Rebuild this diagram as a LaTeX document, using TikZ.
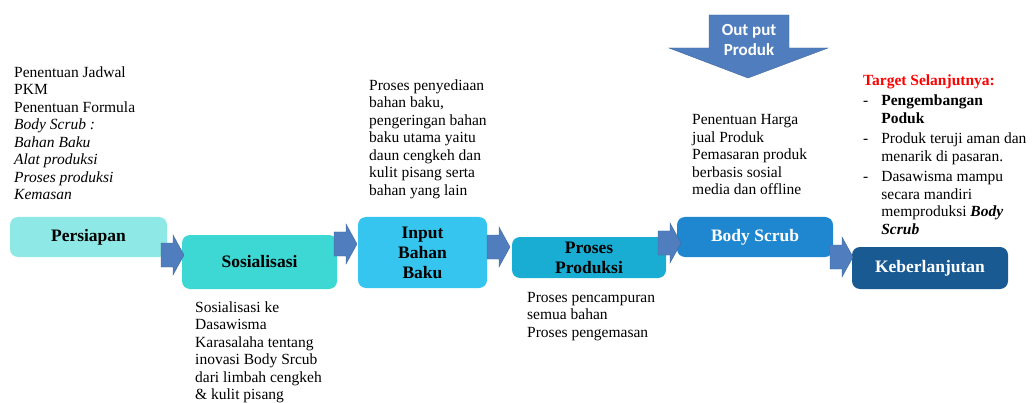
\documentclass[tikz,border=0pt]{standalone}
\usepackage{fontspec}
\setmainfont{Liberation Serif}
\newfontfamily\calibri{Carlito}
\definecolor{persiapanfill}{HTML}{8DE8E6}
\definecolor{sosialfill}{HTML}{3DD8D4}
\definecolor{inputfill}{HTML}{36C5EE}
\definecolor{prosesfill}{HTML}{19ADD4}
\definecolor{scrubfill}{HTML}{1E87CF}
\definecolor{lanjutfill}{HTML}{195A92}
\definecolor{arrfill}{HTML}{4F7DBD}
\definecolor{arrline}{HTML}{41699E}
\definecolor{targetred}{HTML}{FF0000}
\tikzset{stage/.style={rounded corners=8pt, align=center, inner sep=2pt,
                       font=\fontsize{17.5}{20}\selectfont\bfseries},
         note/.style={anchor=north west, inner sep=0pt, align=left,
                      font=\fontsize{15.5}{17.5}\selectfont},
         blockarr/.pic={
        code={
            \draw[fill=arrfill, draw=arrline] (0,-12) -- (12,-12) -- (12,-20) -- (23,0)
                 -- (12,20) -- (12,12) -- (0,12) -- cycle;
  }}
}
\begin{document}
\begin{tikzpicture}[x=1pt,y=-1pt]
\useasboundingbox (0,0) rectangle (1032,403);

\node[stage, fill=persiapanfill, minimum width=157pt, minimum height=40pt] (persiapan) at (88.5,237) {Persiapan};
\node[stage, fill=sosialfill, minimum width=155pt, minimum height=54pt] (sosialisasi) at (259.5,262) {Sosialisasi};
\node[stage, fill=inputfill, minimum width=129pt, minimum height=71pt] (input) at (422.5,252.5) {Input\\Bahan\\Baku};
\node[stage, fill=prosesfill, minimum width=154pt, minimum height=41pt] (proses) at (589,257.5) {Proses\\Produksi};
\node[stage, fill=scrubfill, text=white, minimum width=156pt, minimum height=40pt] (scrub) at (755,237) {Body Scrub};
\node[stage, fill=lanjutfill, text=white, minimum width=156pt, minimum height=42pt] (lanjut) at (930,268) {Keberlanjutan};

\path (161,255) pic {blockarr};
\path (334,244) pic {blockarr};
\path (487,247) pic {blockarr};
\path (658,243) pic {blockarr};
\path (830,257) pic {blockarr};

% out put
\draw[fill=arrfill, draw=arrline] (709,15) -- (789,15) -- (789,48) -- (828,48) -- (748,78)
     -- (669,48) -- (709,48) -- cycle;
\node[text=white, align=center, font=\calibri\bfseries\fontsize{17}{20}\selectfont] (output) at (749,40) {Out put\\Produk};

\node[note] (persiapannote) at (14,66.5) {Penentuan Jadwal\\PKM\\Penentuan Formula\\
  \textit{Body Scrub :}\\\textit{Bahan Baku}\\\textit{Alat produksi}\\\textit{Proses produksi}\\\textit{Kemasan}};
\node[note] (sosialnote) at (195,301.5) {Sosialisasi ke\\Dasawisma\\Karasalaha tentang\\
  inovasi Body Srcub\\dari limbah cengkeh\\\& kulit pisang};
\node[note] (inputnote) at (369,79.5) {Proses penyediaan\\bahan baku,\\pengeringan bahan\\
  baku utama yaitu\\daun cengkeh dan\\kulit pisang serta\\bahan yang lain};
\node[note] (prosesnote) at (527,292) {Proses pencampuran\\semua bahan\\Proses pengemasan};
\node[note] (scrubnote) at (692,114.5) {Penentuan Harga\\jual Produk\\Pemasaran produk\\
  berbasis sosial\\media dan offline};

\node[note] (target) at (863,73) {%
  \begin{tabular}{@{}l@{\hspace{13pt}}l@{}}
  \multicolumn{2}{@{}l@{}}{\textcolor{targetred}{\bfseries Target Selanjutnya:}}\\[3pt]
  - & \textbf{Pengembangan}\\
    & \textbf{Poduk}\\[3pt]
  - & Produk teruji aman dan\\
    & menarik di pasaran.\\[3pt]
  - & Dasawisma mampu\\
    & secara mandiri\\
    & memproduksi \textbf{\textit{Body}}\\
    & \textbf{\textit{Scrub}}
  \end{tabular}};

\end{tikzpicture}
\end{document}
